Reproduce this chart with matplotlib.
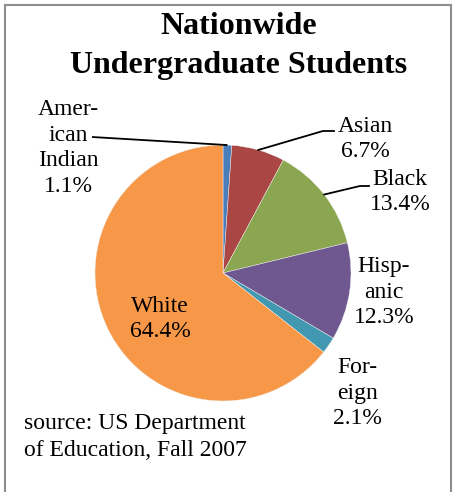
import matplotlib.pyplot as plt
import matplotlib.patches as mpatches
import numpy as np

plt.rcParams['font.family'] = ['Liberation Serif', 'DejaVu Serif']

# Fall 2007 undergraduate enrollment shares (percent)
groups = ['American Indian', 'Asian', 'Black', 'Hispanic', 'Foreign', 'White']
shares = [1.1, 6.7, 13.4, 12.3, 2.1, 64.4]
label_text = ['Amer-\nican\nIndian', 'Asian', 'Black', 'Hisp-\nanic', 'For-\neign', 'White']
colors = ['#4a7ebb', '#aa4644', '#8ba650', '#6f5790', '#4298b0', '#f79848']

W, H = 454, 492
fig = plt.figure(figsize=(W / 100, H / 100), dpi=100)
ax = fig.add_axes([0, 0, 1, 1])

cx, cy, R = 223, H - 273, 128
wedges, _ = ax.pie(shares, colors=colors, startangle=90, counterclock=False,
                   center=(cx, cy), radius=R, frame=True,
                   wedgeprops=dict(linewidth=0.3, edgecolor='#f4f4f4'))
ax.set_xlim(0, W)
ax.set_ylim(0, H)
ax.set_aspect('equal')
ax.axis('off')

# grey frame around the chart area
frame = mpatches.Rectangle((4.5, -10), 446, H - 4.5 + 10, fill=False,
                           edgecolor='#8c8c8c', linewidth=1.5)
ax.add_patch(frame)

ax.text(239, H - 27, 'Nationwide', fontsize=23, fontweight='bold',
        ha='center', va='center')
ax.text(239, H - 65, 'Undergraduate Students', fontsize=23, fontweight='bold',
        ha='center', va='center')

# label anchor points (pixel positions of label centres)
label_pos = {
    'American Indian': (68, 148),
    'Asian': (365, 139),
    'Black': (400, 192),
    'Hispanic': (384, 292),
    'Foreign': (357, 393),
    'White': (160, 319),
}
for g, s, lt in zip(groups, shares, label_text):
    x, y = label_pos[g]
    ax.text(x, H - y, f'{lt}\n{s}%', fontsize=17, ha='center', va='center',
            linespacing=1.3)


def edge_point(i):
    w = wedges[i]
    ang = np.deg2rad((w.theta1 + w.theta2) / 2)
    return cx + R * np.cos(ang), cy + R * np.sin(ang)


# leader lines
px, py = edge_point(0)
ax.plot([92, px], [H - 137, py], color='black', lw=1.3, solid_capstyle='butt')
px, py = edge_point(1)
ax.plot([334, 323, px], [H - 131, H - 131, py], color='black', lw=1.3)
px, py = edge_point(2)
ax.plot([369, 360, px], [H - 186, H - 186, py], color='black', lw=1.3)

ax.text(24, H - 423, 'source: US Department', fontsize=17, ha='left', va='center')
ax.text(24, H - 450, 'of Education, Fall 2007', fontsize=17, ha='left', va='center')

fig.savefig('out.png', dpi=100, facecolor='white')
